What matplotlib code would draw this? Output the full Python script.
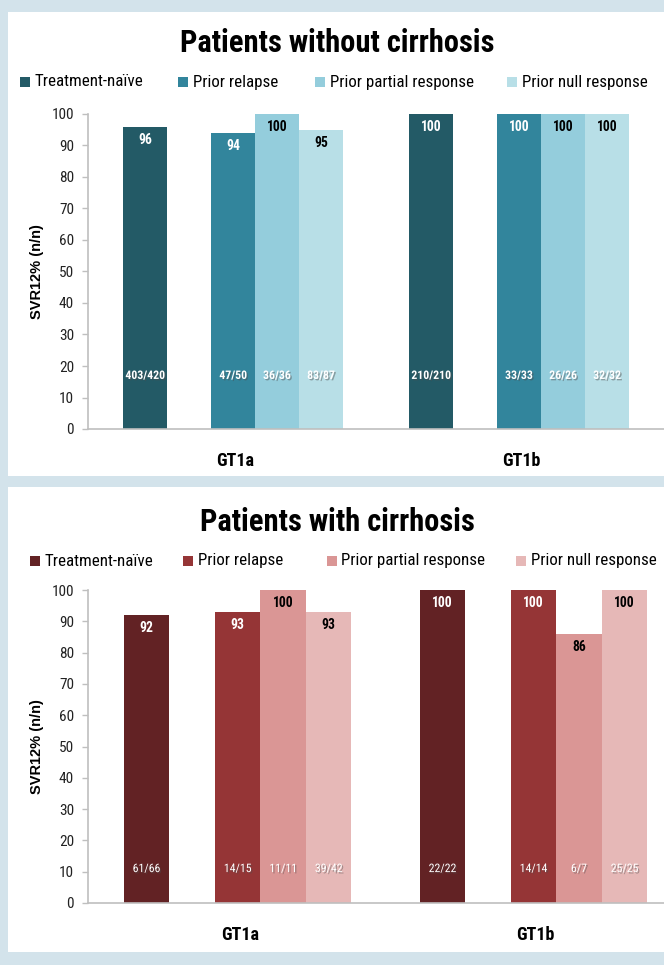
import matplotlib
matplotlib.use('Agg')
import matplotlib.pyplot as plt
from matplotlib.patches import Rectangle
import matplotlib.patheffects as pe
from matplotlib import font_manager as fm

# ---------------- data ----------------
genotypes = ['GT1a', 'GT1b']
series = ['Treatment-naïve', 'Prior relapse', 'Prior partial response', 'Prior null response']

# Patients without cirrhosis (SVR12 %)
nc_naive = [96, 100]
nc_relapse = [94, 100]
nc_partial = [100, 100]
nc_null = [95, 100]
nc_n_naive = ['403/420', '210/210']
nc_n_relapse = ['47/50', '33/33']
nc_n_partial = ['36/36', '26/26']
nc_n_null = ['83/87', '32/32']

# Patients with cirrhosis (SVR12 %)
c_naive = [92, 100]
c_relapse = [93, 100]
c_partial = [100, 86]
c_null = [93, 100]
c_n_naive = ['61/66', '22/22']
c_n_relapse = ['14/15', '14/14']
c_n_partial = ['11/11', '6/7']
c_n_null = ['39/42', '25/25']

yticks = [0, 10, 20, 30, 40, 50, 60, 70, 80, 90, 100]


# ---------------- font selection (narrow sans) ----------------
def pick_narrow():
    entries = fm.fontManager.ttflist
    names = {f.name for f in entries}
    for n in ['Liberation Sans Narrow', 'Roboto Condensed', 'Arial Narrow',
              'Noto Sans Condensed', 'Open Sans Condensed', 'DejaVu Sans Condensed']:
        if n in names:
            return {'family': [n, 'DejaVu Sans']}
    for f in entries:
        if ('Narrow' in f.name or 'Condensed' in f.name) and 'Serif' not in f.name \
                and 'Mono' not in f.name:
            return {'family': [f.name, 'DejaVu Sans']}
    for base in ['Roboto', 'Noto Sans', 'Open Sans', 'DejaVu Sans']:
        for f in entries:
            if f.name == base and ('ondensed' in f.fname or 'condensed' in str(f.stretch)):
                return {'family': [base, 'DejaVu Sans'], 'fontstretch': 'condensed'}
    return {'family': ['Roboto', 'DejaVu Sans']}


NK = pick_narrow()

# ---------------- style ----------------
W, H = 664, 965
BG = '#D3E3EB'
blue_cols = ['#235A66', '#32859C', '#94CDDC', '#B8DFE7']
red_cols = ['#622224', '#953536', '#DA9695', '#E6B8B7']
val_cols = ['white', 'white', 'black', 'black']

fig = plt.figure(figsize=(W / 100, H / 100), dpi=100)
fig.patch.set_facecolor(BG)


def fx(px):
    return px / W


def fy(py):
    return 1 - py / H


# white panels
for (x0, y0, x1, y1) in [(8, 12, 664, 476), (8, 487, 664, 952)]:
    fig.patches.append(Rectangle((fx(x0), fy(y1)), fx(x1) - fx(x0), fy(y0) - fy(y1),
                                 transform=fig.transFigure, facecolor='white',
                                 edgecolor='none', zorder=-10))


def panel(title, title_y, legend_y, legend_sq, legend_tx, ax_rect, xlim,
          vals, ns, cols, nn_y, nn_bold):
    fig.text(fx(337), fy(title_y), title, ha='center', va='center',
             fontsize=22, fontweight='bold', color='black', **NK)
    for i, s in enumerate(series):
        sq = 10
        fig.patches.append(Rectangle((fx(legend_sq[i] - sq / 2), fy(legend_y + sq / 2)),
                                     fx(sq), sq / H, transform=fig.transFigure,
                                     facecolor=cols[i], edgecolor='none'))
        fig.text(fx(legend_tx[i]), fy(legend_y), s, ha='left', va='center',
                 fontsize=12.2, color='black', **NK)

    ax = fig.add_axes(ax_rect)
    ax.set_facecolor('none')
    offsets = [0, 2, 3, 4]
    group_gap = 6.5
    for i in range(4):
        xs = [g * group_gap + offsets[i] for g in range(len(genotypes))]
        ax.bar(xs, vals[i], width=1.0, color=cols[i], edgecolor='none', zorder=2)
        for x, v, n in zip(xs, vals[i], ns[i]):
            ax.annotate(str(v), (x, v), xytext=(0, -4.5), textcoords='offset points',
                        ha='center', va='top', fontsize=9.8, fontweight='bold',
                        color=val_cols[i], zorder=3, **NK)
            t = ax.text(x, nn_y, n, ha='center', va='center', fontsize=8.5,
                        fontweight='bold' if nn_bold else 'normal',
                        color='white', zorder=3, **NK)
            t.set_path_effects([pe.SimplePatchShadow(offset=(1, -1), alpha=0.45),
                                pe.Normal()])
    ax.set_xlim(*xlim)
    ax.set_ylim(0, 100)
    ax.set_yticks(yticks)
    ax.set_yticklabels([str(v) for v in yticks], fontsize=11, color='#222222', **NK)
    ax.tick_params(axis='y', length=4, width=1, color='#BFBFBF', pad=6)
    ax.set_xticks([g * group_gap + 2.05 for g in range(len(genotypes))])
    ax.set_xticklabels(genotypes, fontsize=13, fontweight='bold', **NK)
    ax.tick_params(axis='x', length=0, pad=16.5)
    for sp in ['top', 'right']:
        ax.spines[sp].set_visible(False)
    for sp in ['left', 'bottom']:
        ax.spines[sp].set_color('#BFBFBF')
        ax.spines[sp].set_linewidth(1.2)
    ax.set_ylabel('SVR12% (n/n)', family=['Liberation Sans', 'DejaVu Sans'],
                  fontsize=10.5, fontweight='bold')
    ax.yaxis.set_label_coords(-(88 - 44) / (ax_rect[2] * W), 0.5)
    return ax


# top panel: axis x 88..664, y(100)=114, y(0)=429
panel('Patients without cirrhosis', 43, 82,
      [25, 183, 320, 512], [35, 193, 330, 522],
      [fx(88), fy(429), fx(664) - fx(88), (429 - 114) / H],
      (-1.295, 11.795),
      [nc_naive, nc_relapse, nc_partial, nc_null],
      [nc_n_naive, nc_n_relapse, nc_n_partial, nc_n_null],
      blue_cols, 17, True)

# bottom panel: axis x 88..664, y(100)=590, y(0)=903
panel('Patients with cirrhosis', 522, 561,
      [35, 188, 332, 521], [45, 198, 341, 531],
      [fx(88), fy(903), fx(664) - fx(88), (903 - 590) / H],
      (-1.286, 11.37),
      [c_naive, c_relapse, c_partial, c_null],
      [c_n_naive, c_n_relapse, c_n_partial, c_n_null],
      red_cols, 11, False)

fig.savefig('out.png', dpi=100, facecolor=fig.get_facecolor())
